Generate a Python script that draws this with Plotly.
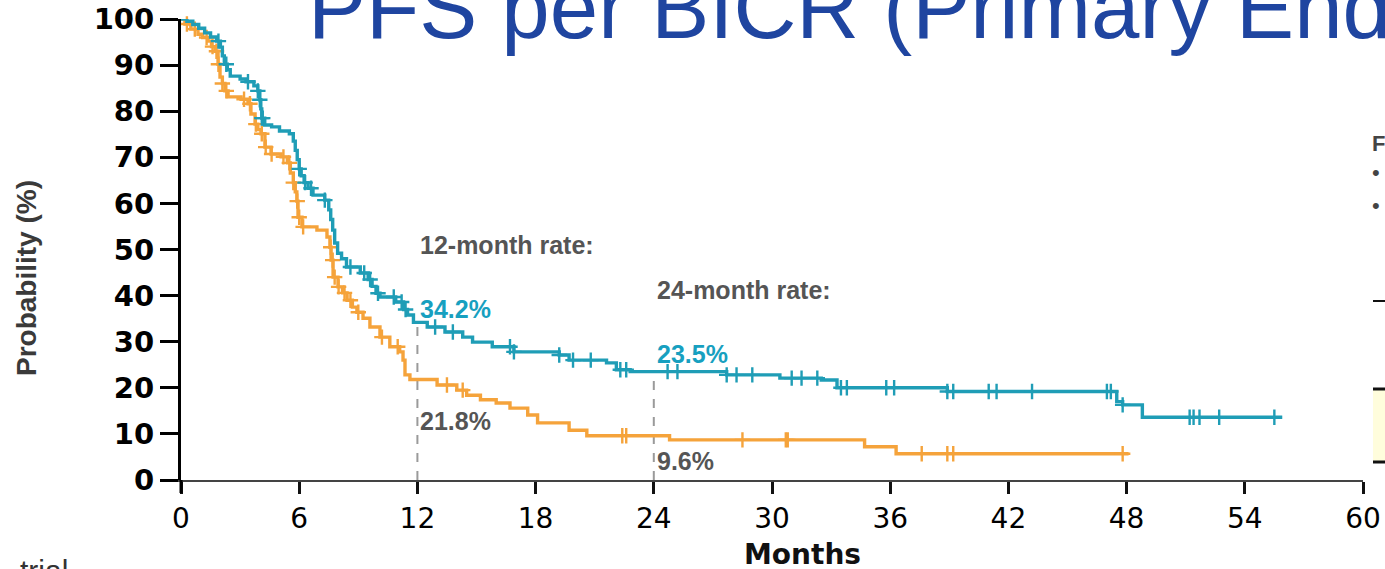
import numpy as np
import plotly.graph_objects as go

# ---------------- data ----------------
teal_t = [0, 0.3, 0.6, 0.9, 1.2, 1.5, 1.8, 2.0, 2.1, 2.2, 2.35, 2.5, 3.0, 3.3, 3.7, 3.9, 4.0, 4.05,
          4.1, 4.25, 4.6, 5.0, 5.5, 5.7, 5.8, 5.9, 6.0, 6.1, 6.25, 6.45, 6.7, 7.3, 7.5, 7.6, 7.7, 7.8,
          7.95, 8.15, 8.4, 9.1, 9.5, 9.7, 9.9, 10.1, 10.9, 11.3, 11.5, 11.8, 12.5, 13.4, 14.3, 14.8,
          15.8, 16.9, 19.2, 19.7, 21.6, 22.1, 22.8, 27.7, 30.4, 32.5, 33.3, 38.9, 47.5, 47.8, 48.8, 55.9]
teal_s = [100, 99.5, 98.8, 98.0, 97.0, 96.1, 95.2, 93.9, 92.0, 90.2, 89.0, 87.6, 87.0, 86.4, 85.5, 84.4,
          82.5, 80.5, 78.5, 77.0, 76.6, 75.7, 75.1, 73.5, 71.5, 69.5, 67.5, 66.0, 64.5, 63.3, 61.8, 60.7,
          58.6, 56.5, 54.2, 51.4, 49.2, 48.0, 46.2, 44.9, 43.5, 42.0, 40.5, 39.7, 38.6, 37.0, 35.8, 34.2,
          33.2, 32.1, 31.0, 29.9, 28.9, 27.8, 27.1, 26.0, 25.4, 23.9, 23.5, 22.8, 22.1, 21.7, 20.0, 19.2,
          17.0, 16.3, 13.6, 13.6]
teal_cens = [1.9, 2.3, 3.4, 3.9, 4.0, 4.1, 4.15, 6.0, 6.3, 6.6, 7.3, 8.6, 9.3, 9.6, 10.0, 10.8, 11.2,
             11.4, 12.9, 13.8, 16.7, 16.9, 19.2, 19.9, 20.8, 22.3, 22.6, 24.7, 25.2, 27.7, 28.2, 29.0,
             31.0, 31.5, 32.3, 33.5, 33.8, 35.8, 36.2, 38.9, 39.2, 41.0, 41.4, 43.2, 47.0, 47.2, 47.8,
             51.2, 51.4, 51.7, 52.7, 55.5]

orange_t = [0, 0.2, 0.5, 0.86, 1.1, 1.37, 1.55, 1.73, 1.88, 1.98, 2.1, 2.23, 2.39, 3.05, 3.4, 3.55,
            3.76, 3.9, 4.06, 4.26, 4.57, 5.08, 5.4, 5.55, 5.7, 5.8, 5.88, 5.94, 6.14, 6.9, 7.41, 7.56,
            7.62, 7.72, 7.97, 8.2, 8.43, 8.7, 8.93, 9.24, 9.59, 10.1, 10.6, 11.1, 11.27, 11.37, 11.62,
            13.0, 14.0, 14.5, 15.2, 16.0, 16.7, 17.6, 18.1, 19.7, 20.6, 24.8, 34.7, 36.3, 48.1]
orange_s = [100, 98.9, 97.8, 96.7, 96.0, 95.2, 94.0, 93.0, 90.2, 87.4, 86.0, 84.4, 83.1, 82.6, 81.6,
            79.4, 77.2, 76.0, 75.1, 72.2, 70.7, 70.1, 68.8, 66.6, 64.5, 62.5, 60.5, 57.0, 54.9, 54.2,
            52.7, 50.5, 47.7, 44.0, 41.9, 40.6, 39.0, 37.5, 36.4, 35.1, 33.2, 31.0, 28.9, 27.8, 26.0,
            22.8, 21.8, 20.6, 19.5, 18.4, 17.4, 16.7, 15.6, 14.1, 12.4, 10.8, 9.6, 8.7, 7.2, 5.7, 5.7]
orange_cens = [0.3, 0.7, 1.3, 1.6, 1.8, 1.9, 2.1, 2.3, 3.2, 3.5, 3.8, 4.1, 4.3, 4.6, 5.2, 5.5, 5.7,
               5.9, 6.0, 6.2, 7.6, 7.7, 7.8, 8.0, 8.3, 8.6, 9.0, 10.2, 11.0, 13.5, 14.3, 22.4, 22.6,
               28.5, 30.7, 30.8, 37.6, 38.9, 39.2, 47.8]

x_ticks = [0, 6, 12, 18, 24, 30, 36, 42, 48, 54, 60]
y_ticks = [0, 10, 20, 30, 40, 50, 60, 70, 80, 90, 100]
landmarks = [12, 24]
teal_rates = [34.2, 23.5]
orange_rates = [21.8, 9.6]

TEAL = "#1f9db6"
ORANGE = "#f5a33b"
TEAL_TXT = "#17a0c0"
GRAY_TXT = "#555555"


def step_at(ts, ss, c):
    i = np.searchsorted(np.array(ts), c, side="right") - 1
    return ss[max(i, 0)]


fig = go.Figure()
for ts, ss, cens, col in [(orange_t, orange_s, orange_cens, ORANGE), (teal_t, teal_s, teal_cens, TEAL)]:
    fig.add_trace(go.Scatter(x=ts, y=ss, mode="lines", line=dict(color=col, width=3.4, shape="hv"),
                             showlegend=False, hoverinfo="skip", cliponaxis=False))
    fig.add_trace(go.Scatter(x=cens, y=[step_at(ts, ss, c) for c in cens], mode="markers",
                             marker=dict(symbol="cross-thin", size=11, line=dict(color=col, width=2.4)),
                             showlegend=False, hoverinfo="skip", cliponaxis=False))

# dashed landmark lines
for lm, tr in zip(landmarks, teal_rates):
    fig.add_shape(type="line", x0=lm, x1=lm, y0=0, y1=tr, xref="x", yref="y",
                  line=dict(color="#9a9a9a", width=2, dash="dash"), layer="below")

ann_font = dict(family="Liberation Sans, Arial", size=25)
labels = [
    (12, 51.0, "<b>12-month rate:</b>", GRAY_TXT),
    (12, 37.2, "<b>%.1f%%</b>" % teal_rates[0], TEAL_TXT),
    (12, 12.8, "<b>%.1f%%</b>" % orange_rates[0], GRAY_TXT),
    (24, 41.2, "<b>24-month rate:</b>", GRAY_TXT),
    (24, 27.4, "<b>%.1f%%</b>" % teal_rates[1], TEAL_TXT),
    (24, 4.1, "<b>%.1f%%</b>" % orange_rates[1], GRAY_TXT),
]
for x, y, txt, col in labels:
    fig.add_annotation(x=x, y=y, xref="x", yref="y", text=txt, showarrow=False, xanchor="left",
                       yanchor="middle", xshift=1, font=dict(color=col, **ann_font))


def px(xp):
    return (xp - 181) / 1182


def py(yp):
    return (480 - yp) / 461


# title (cropped slide title)
fig.add_annotation(xref="paper", yref="paper", x=px(306), y=py(8),
                   text="PFS per BICR (Primary End", showarrow=False, xanchor="left", yanchor="middle",
                   font=dict(family="Liberation Sans, Arial", size=87, color="#1f45a0"))

# axis titles
fig.add_annotation(xref="paper", yref="paper", x=px(26), y=py(278), xanchor="center", yanchor="middle",
                   text="<b>Probability (%)</b>", showarrow=False, textangle=-90,
                   font=dict(family="Liberation Sans, Arial", size=28, color="#3a3a3a"))
fig.add_annotation(xref="paper", yref="paper", x=px(803), y=py(554), xanchor="center", yanchor="middle",
                   text="<b>Months</b>", showarrow=False,
                   font=dict(family="DejaVu Sans", size=28, color="#111111"))
# cropped fragments of the slide
fig.add_annotation(xref="paper", yref="paper", x=px(18), y=py(552),
                   text="trial", showarrow=False, xanchor="left", yanchor="top",
                   font=dict(family="Liberation Sans, Arial", size=30, color="#333333"))
fig.add_annotation(xref="paper", yref="paper", x=px(1373), y=py(143),
                   text="<b>F</b>", showarrow=False, xanchor="left", yanchor="middle", xshift=-3,
                   font=dict(family="Liberation Sans, Arial", size=22, color="#444444"))
for by in [173, 205]:
    fig.add_annotation(xref="paper", yref="paper", x=px(1373), y=py(by),
                       text="•", showarrow=False, xanchor="left", yanchor="middle", xshift=-3,
                       font=dict(family="Liberation Sans, Arial", size=22, color="#444444"))

fig.add_shape(type="line", xref="paper", yref="paper", x0=px(1373), x1=px(1392), y0=py(301), y1=py(301),
              line=dict(color="#111111", width=2))
fig.add_shape(type="rect", xref="paper", yref="paper", x0=px(1373), x1=px(1392), y0=py(462), y1=py(389),
              fillcolor="#fffddc", line=dict(width=0))
for yy in [389, 462]:
    fig.add_shape(type="line", xref="paper", yref="paper", x0=px(1373), x1=px(1392), y0=py(yy), y1=py(yy),
                  line=dict(color="#111111", width=3))
# y-axis extension below zero
fig.add_shape(type="line", xref="paper", yref="paper", x0=0, x1=0, y0=0, y1=py(493),
              line=dict(color="#000000", width=3))

fig.update_layout(
    template="none",
    width=1385, height=569,
    margin=dict(l=181, r=22, t=19, b=89, autoexpand=False),
    paper_bgcolor="white", plot_bgcolor="white",
    xaxis=dict(range=[0, 60], tickvals=x_ticks, ticks="outside", ticklen=12, tickwidth=2.5,
               tickcolor="#111111", showline=True, linecolor="#444444", linewidth=2,
               showgrid=False, zeroline=False, automargin=False, ticklabeloverflow="allow",
               tickfont=dict(family="DejaVu Sans", size=28, color="#000000")),
    yaxis=dict(range=[0, 100], tickvals=y_ticks, ticks="outside", ticklen=18, tickwidth=3,
               tickcolor="#000000", showline=True, linecolor="#000000", linewidth=3,
               showgrid=False, zeroline=False, automargin=False, ticklabeloverflow="allow",
               tickfont=dict(family="DejaVu Sans", size=29, color="#000000", weight="bold")),
)

fig.write_html("out.html", config={"displayModeBar": False},
               post_script="document.body.style.margin='0';document.body.style.overflow='hidden';")
